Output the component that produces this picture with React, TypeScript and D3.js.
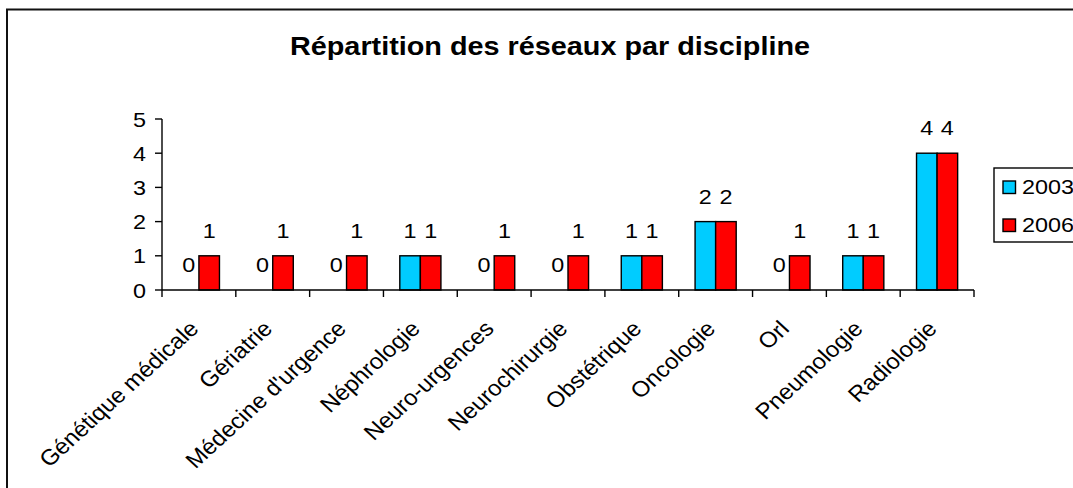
import React, { useRef, useEffect } from 'react';
import * as d3 from 'd3';

const categories = [
  'Génétique médicale', 'Gériatrie', "Médecine d'urgence", 'Néphrologie', 'Neuro-urgences',
  'Neurochirurgie', 'Obstétrique', 'Oncologie', 'Orl', 'Pneumologie', 'Radiologie',
];
const seriesNames = ['2003', '2006'];
const values2003 = [0, 0, 0, 1, 0, 0, 1, 2, 0, 1, 4];
const values2006 = [1, 1, 1, 1, 1, 1, 1, 2, 1, 1, 4];
const yTicks = [0, 1, 2, 3, 4, 5];
const colors = ['#00CCFF', '#FF0000'];

const FONT = 'Arial, "Liberation Sans", sans-serif';
const SX = 1.17; // text in the original is drawn wider than plain Arial

function App() {
  const svgRef = useRef<SVGSVGElement>(null);

  useEffect(() => {
    const svg = d3.select(svgRef.current);
    svg.selectAll('*').remove();

    const width = 1073;
    const height = 488;
    const margin = { top: 119, left: 162, right: 99, bottom: 198 };

    // outer chart frame (right and bottom edges are out of the picture)
    svg.append('rect')
      .attr('x', 7).attr('y', 9.5)
      .attr('width', 1200).attr('height', 600)
      .attr('fill', 'white')
      .attr('stroke', '#111')
      .attr('stroke-width', 2);

    svg.append('text')
      .attr('transform', `translate(550, 55) scale(1.13,1)`)
      .attr('text-anchor', 'middle')
      .style('font-family', FONT)
      .style('font-size', '25.5px')
      .style('font-weight', 'bold')
      .text('Répartition des réseaux par discipline');

    const x = d3.scaleBand()
      .domain(categories)
      .range([margin.left, width - margin.right])
      .paddingInner(0.443)
      .paddingOuter(0.2215);

    const xs = d3.scaleBand()
      .domain(seriesNames)
      .range([0, x.bandwidth()]);

    const y = d3.scaleLinear()
      .domain([0, 5])
      .range([height - margin.bottom, margin.top]);

    const step = x.step();
    const y0 = y(0);

    // bars and value labels
    const series = [values2003, values2006];
    series.forEach((vals, si) => {
      const g = svg.append('g');
      vals.forEach((v, i) => {
        const bx = x(categories[i])! + xs(seriesNames[si])!;
        if (v > 0) {
          g.append('rect')
            .attr('x', bx)
            .attr('y', y(v))
            .attr('width', xs.bandwidth())
            .attr('height', y0 - y(v))
            .attr('fill', colors[si])
            .attr('stroke', '#000')
            .attr('stroke-width', 1.4);
        }
        g.append('text')
          .attr('transform', `translate(${bx + xs.bandwidth() / 2}, ${y(v) - 18}) scale(${SX},1)`)
          .attr('text-anchor', 'middle')
          .style('font-family', FONT)
          .style('font-size', '20px')
          .text(v);
      });
    });

    // x axis
    svg.append('line')
      .attr('x1', margin.left).attr('x2', width - margin.right)
      .attr('y1', y0).attr('y2', y0)
      .attr('stroke', '#000').attr('stroke-width', 1.4);

    const boundaries = categories.map(c => x(c)! - step * 0.2215).concat([width - margin.right]);
    svg.selectAll('.xtick')
      .data(boundaries)
      .enter()
      .append('line')
      .attr('x1', d => d).attr('x2', d => d)
      .attr('y1', y0).attr('y2', y0 + 7)
      .attr('stroke', '#000').attr('stroke-width', 1.4);

    svg.selectAll('.xlabel')
      .data(categories)
      .enter()
      .append('text')
      .attr('transform', d => `translate(${x(d)! + x.bandwidth() / 2 + 1}, ${y0 + 40}) scale(1.09,1) rotate(-45)`)
      .attr('text-anchor', 'end')
      .style('font-family', FONT)
      .style('font-size', '22px')
      .text(d => d);

    // y axis
    svg.append('line')
      .attr('x1', margin.left).attr('x2', margin.left)
      .attr('y1', y(5)).attr('y2', y0)
      .attr('stroke', '#000').attr('stroke-width', 1.4);

    svg.selectAll('.ytick')
      .data(yTicks)
      .enter()
      .append('line')
      .attr('x1', margin.left - 7).attr('x2', margin.left)
      .attr('y1', d => y(d)).attr('y2', d => y(d))
      .attr('stroke', '#000').attr('stroke-width', 1.4);

    svg.selectAll('.ylabel')
      .data(yTicks)
      .enter()
      .append('text')
      .attr('transform', d => `translate(146, ${y(d) + 7.5}) scale(${SX},1)`)
      .attr('text-anchor', 'end')
      .style('font-family', FONT)
      .style('font-size', '20px')
      .text(d => d);

    // legend
    const lg = svg.append('g');
    lg.append('rect')
      .attr('x', 994).attr('y', 168)
      .attr('width', 120).attr('height', 74)
      .attr('fill', 'white')
      .attr('stroke', '#000').attr('stroke-width', 1.4);
    seriesNames.forEach((s, i) => {
      const ly = 181 + i * 38;
      lg.append('rect')
        .attr('x', 1003).attr('y', ly)
        .attr('width', 12.5).attr('height', 12.5)
        .attr('fill', colors[i])
        .attr('stroke', '#000').attr('stroke-width', 1.4);
      lg.append('text')
        .attr('transform', `translate(1022, ${ly + 13}) scale(${SX},1)`)
        .style('font-family', FONT)
        .style('font-size', '20px')
        .text(s);
    });
  }, []);

  return (
    <svg
      ref={svgRef}
      width={1073}
      height={488}
      style={{ position: 'absolute', left: 0, top: 0, background: 'white' }}
    />
  );
}

export default App;
